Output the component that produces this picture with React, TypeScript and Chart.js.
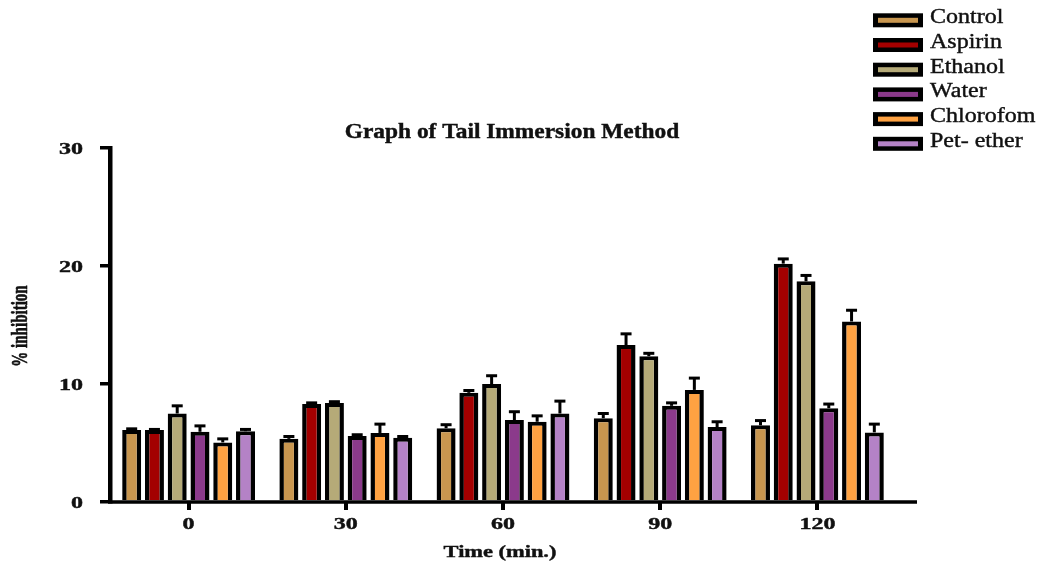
import React, { useEffect, useRef } from 'react';
import { Chart, registerables } from 'chart.js';

Chart.register(...registerables);

// ---- data ----
const categories = ['0', '30', '60', '90', '120'];
const seriesNames = ['Control', 'Aspirin', 'Ethanol', 'Water', 'Chlorofom', 'Pet- ether'];

const control = [6.1, 5.35, 6.25, 7.1, 6.5];
const aspirin = [6.1, 8.3, 9.25, 13.3, 20.2];
const ethanol = [7.5, 8.4, 10.0, 12.35, 18.7];
const water = [5.95, 5.6, 6.95, 8.15, 7.95];
const chloroform = [5.05, 5.85, 6.8, 9.5, 15.3];
const petEther = [6.0, 5.45, 7.5, 6.35, 5.9];

const controlErr = [0.1, 0.2, 0.3, 0.4, 0.4];
const aspirinErr = [0.05, 0.1, 0.2, 0.95, 0.4];
const ethanolErr = [0.65, 0.1, 0.7, 0.25, 0.5];
const waterErr = [0.5, 0.1, 0.7, 0.25, 0.35];
const chloroformErr = [0.3, 0.75, 0.5, 1.0, 0.95];
const petEtherErr = [0.15, 0.1, 1.05, 0.45, 0.7];

const yTicks = [0, 10, 20, 30];

const titleText = 'Graph of Tail Immersion Method';
const xTitle = 'Time (min.)';
const yTitle = '% inhibition';

// ---- styles ----
const colors = ['#C8964F', '#A30000', '#B5AA78', '#8B3A8B', '#FFA242', '#B482C6'];
const SERIF = '"Liberation Serif", "Times New Roman", serif';
const INK = '#111';

function drawText(
  ctx: CanvasRenderingContext2D,
  text: string,
  x: number,
  y: number,
  font: string,
  sx: number,
  align: CanvasTextAlign
) {
  ctx.save();
  ctx.translate(x, y);
  ctx.scale(sx, 1);
  ctx.font = font;
  ctx.textAlign = align;
  ctx.textBaseline = 'alphabetic';
  ctx.fillStyle = INK;
  ctx.strokeStyle = INK;
  ctx.lineWidth = 0.4;
  ctx.fillText(text, 0, 0);
  ctx.strokeText(text, 0, 0);
  ctx.restore();
}

export default function App() {
  const ref = useRef<HTMLCanvasElement>(null);

  useEffect(() => {
    document.body.style.margin = '0';
    const values = [control, aspirin, ethanol, water, chloroform, petEther];
    const errors = [controlErr, aspirinErr, ethanolErr, waterErr, chloroformErr, petEtherErr];

    const errorBars = {
      id: 'errorBars',
      afterDatasetsDraw(chart: any) {
        const ctx = chart.ctx as CanvasRenderingContext2D;
        const y = chart.scales.y;
        ctx.save();
        ctx.strokeStyle = '#000';
        ctx.lineWidth = 3;
        chart.data.datasets.forEach((ds: any, di: number) => {
          const meta = chart.getDatasetMeta(di);
          meta.data.forEach((bar: any, i: number) => {
            const v = ds.data[i];
            const e = errors[di][i];
            const yTop = y.getPixelForValue(v);
            const yErr = y.getPixelForValue(v + e);
            ctx.beginPath();
            ctx.moveTo(bar.x, yTop);
            ctx.lineTo(bar.x, yErr);
            ctx.stroke();
            ctx.beginPath();
            ctx.moveTo(bar.x - 5.5, yErr);
            ctx.lineTo(bar.x + 5.5, yErr);
            ctx.stroke();
          });
        });
        // x axis base line (extends past the last category like the reference)
        const a = chart.chartArea;
        ctx.lineWidth = 3.5;
        ctx.beginPath();
        ctx.moveTo(a.left - 2, a.bottom);
        ctx.lineTo(a.right + 21, a.bottom);
        ctx.stroke();
        ctx.restore();
      },
    };

    const textLayer = {
      id: 'textLayer',
      afterDraw(chart: any) {
        const ctx = chart.ctx as CanvasRenderingContext2D;
        const a = chart.chartArea;
        const xs = chart.scales.x;
        const ys = chart.scales.y;
        // title
        drawText(ctx, titleText, 512, 137.5, `bold 20px ${SERIF}`, 1.17, 'center');
        // y tick labels
        yTicks.forEach((v) => {
          drawText(ctx, String(v), 83, ys.getPixelForValue(v) + 5.5, `bold 16px ${SERIF}`, 1.5, 'right');
        });
        // x tick labels
        categories.forEach((c, i) => {
          drawText(ctx, c, xs.getPixelForValue(i), 529, `bold 16px ${SERIF}`, 1.5, 'center');
        });
        // x title
        drawText(ctx, xTitle, 500, 557, `bold 16px ${SERIF}`, 1.4, 'center');
        // y title (rotated)
        ctx.save();
        ctx.translate(27, (a.top + a.bottom) / 2 + 1);
        ctx.scale(1.55, 1);
        ctx.rotate(-Math.PI / 2);
        ctx.font = `bold 15px ${SERIF}`;
        ctx.textAlign = 'center';
        ctx.textBaseline = 'alphabetic';
        ctx.fillStyle = INK;
        ctx.strokeStyle = INK;
        ctx.lineWidth = 0.4;
        ctx.fillText(yTitle, 0, 0);
        ctx.strokeText(yTitle, 0, 0);
        ctx.restore();
        // legend
        chart.data.datasets.forEach((ds: any, i: number) => {
          const top = 13.3 + i * 24.7;
          ctx.save();
          ctx.fillStyle = '#000';
          ctx.fillRect(873, top, 50, 14);
          ctx.fillStyle = ds.backgroundColor;
          ctx.fillRect(878, top + 4.5, 40, 5);
          ctx.restore();
          drawText(ctx, ds.label, 930, top + 10, `20px ${SERIF}`, 1.2, 'left');
        });
      },
    };

    const chart = new Chart(ref.current as HTMLCanvasElement, {
      type: 'bar',
      data: {
        labels: categories,
        datasets: seriesNames.map((name, i) => ({
          label: name,
          data: values[i],
          backgroundColor: colors[i],
          borderColor: '#000',
          borderWidth: { top: 4, left: 4.5, right: 4.5, bottom: 0 },
          borderSkipped: 'start',
          barPercentage: 0.834,
          categoryPercentage: 0.869,
        })),
      },
      options: {
        animation: false,
        responsive: true,
        maintainAspectRatio: false,
        layout: { padding: { top: 148, left: 100, right: 147, bottom: 53 } },
        plugins: {
          legend: { display: false },
          title: { display: false },
          tooltip: { enabled: false },
        },
        scales: {
          x: {
            type: 'category',
            offset: true,
            grid: {
              display: true,
              drawOnChartArea: false,
              drawTicks: true,
              tickLength: 8,
              offset: false,
              color: '#000',
              lineWidth: 4,
            },
            border: { display: false },
            ticks: { display: false },
          },
          y: {
            min: 0,
            max: 30,
            ticks: { display: false, stepSize: 10 },
            grid: {
              drawOnChartArea: false,
              drawTicks: true,
              tickLength: 10,
              color: '#000',
              lineWidth: 3.5,
            },
            border: { display: true, color: '#000', width: 4.5 },
          },
        },
      },
      plugins: [errorBars, textLayer],
    } as any);

    return () => chart.destroy();
  }, []);

  return (
    <div style={{ position: 'absolute', left: 0, top: 0, width: 1043, height: 563, background: '#fff' }}>
      <canvas ref={ref} />
    </div>
  );
}
